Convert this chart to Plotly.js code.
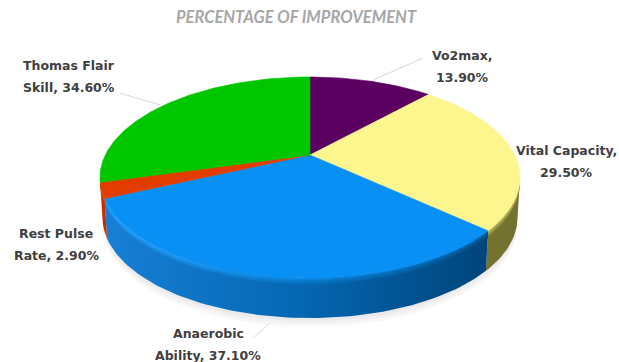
<!DOCTYPE html>
<html>
<head>
<meta charset="utf-8">
<script src="https://cdn.plot.ly/plotly-3.0.1.min.js"></script>
<style>html,body{margin:0;padding:0;background:#fff}#chart{width:619px;height:362px}</style>
</head>
<body>
<div id="chart"></div>
<script>
// Improvement per fitness measure, clockwise from twelve o'clock
const categories = ["Vo2max", "Vital Capacity", "Anaerobic Ability", "Rest Pulse Rate", "Thomas Flair Skill"];
const percentages = [13.9, 29.5, 37.1, 2.9, 34.6];

// Colours of the slice tops
const topColors = ["#5b0061", "#fdf58e", "#0890f5", "#e23c00", "#00c600"];

// Rim colours, one horizontal ramp per slice: [upper bevel, wall]
const wallRamps = [
  [["#5b0061", "#5b0061"], ["#3c0040", "#3c0040"]],
  [["#c9c468", "#b8b35c"], ["#7f7d3c", "#74722f"]],
  [["#2aa6ff", "#0a88e2", "#005c9e"], ["#1780d6", "#0568b4", "#00447a"]],
  [["#f05a20", "#d83800"], ["#c43000", "#b82c00"]],
  [["#00a800", "#00a800"], ["#009000", "#009000"]]
];

// Camera of the tilted disc: pivot, radii, foreshortening and wall height
const cam = { cx: 310, cy: 155, rx: 204.7, ry: 95.5, k: 0.224, depth: 40 };

// Disc angle (radians, clockwise from the top) to page pixels at a given drop below the top face
function project(theta, drop) {
  const X = Math.sin(theta), Y = Math.cos(theta), w = 1 + cam.k * Y;
  const shrink = 1 - 0.012 * drop / cam.depth;
  return [cam.cx + shrink * cam.rx * X / w, cam.cy - cam.ry * Y / w + drop];
}

function arc(a0, a1, drop) {
  const n = Math.max(2, Math.ceil(Math.abs(a1 - a0) / 0.02));
  const pts = [];
  for (let i = 0; i <= n; i++) pts.push(project(a0 + (a1 - a0) * i / n, drop));
  return pts;
}

const total = percentages.reduce((a, b) => a + b, 0);
let running = 0;
const slices = percentages.map(v => {
  const a0 = running / total * 2 * Math.PI;
  running += v;
  return [a0, running / total * 2 * Math.PI];
});

function polygon(pts, extra) {
  return Object.assign({
    type: "scatter", mode: "lines", fill: "toself",
    x: pts.map(p => p[0]), y: pts.map(p => p[1]),
    line: { width: 0 }, hoverinfo: "skip", showlegend: false
  }, extra);
}

function ramp(stops) {
  return {
    type: "horizontal", start: 100, stop: 490,
    colorscale: stops.map((c, i) => [i / (stops.length - 1), c])
  };
}

// Blend two #rrggbb colours
function mix(a, b, t) {
  const ch = (s, i) => parseInt(s.substr(1 + 2 * i, 2), 16);
  const out = [0, 1, 2].map(i => Math.round(ch(a, i) + (ch(b, i) - ch(a, i)) * t));
  return "rgb(" + out.join(",") + ")";
}

const traces = [];

// Faint contact shadow beneath the front of the disc
const frontStart = Math.acos(-cam.k), frontEnd = 2 * Math.PI - frontStart;
[9, 6, 3].forEach(grow => {
  const pts = arc(frontStart, frontEnd, cam.depth + grow)
    .concat(arc(frontEnd, frontStart, 0));
  traces.push(polygon(pts, { fillcolor: "rgba(120,120,140,0.05)" }));
});

// Visible wall of each slice: bevel bands stacked from deep to shallow so no seams show
const bevelDepths = [8, 6, 4, 2];
slices.forEach(([a0, a1], i) => {
  const from = Math.max(a0, frontStart), to = Math.min(a1, frontEnd);
  if (to <= from) return;
  const [lit, dark] = wallRamps[i];
  const wall = arc(from, to, cam.depth).concat(arc(to, from, 0));
  traces.push(polygon(wall, { fillcolor: dark[0], fillgradient: ramp(dark) }));
  bevelDepths.forEach((d, s) => {
    const t = 1 - s / (bevelDepths.length - 1);
    const stops = lit.map((c, n) => mix(c, dark[n], t));
    const band = arc(from, to, d).concat(arc(to, from, 0));
    traces.push(polygon(band, { fillcolor: stops[0], fillgradient: ramp(stops) }));
  });
});

// Top faces meet at the pivot of the disc
slices.forEach(([a0, a1], i) => {
  const pivot = [cam.cx, cam.cy];
  const pts = [pivot].concat(arc(a0, a1, 0), [pivot]);
  traces.push(polygon(pts, { fillcolor: topColors[i], line: { width: 0.6, color: topColors[i] } }));
});

// Leader lines from labels to their slices
const leaders = [
  { x: [423, 373], y: [58, 80] },
  { x: [120, 160], y: [93, 105] },
  { x: [253, 270], y: [338, 323] }
];
leaders.forEach(l => traces.push({
  type: "scatter", mode: "lines", x: l.x, y: l.y,
  line: { color: "#d9d9d9", width: 1 }, hoverinfo: "skip", showlegend: false
}));

// Two-line data labels, the split point chosen per category
const fmt = v => v.toFixed(2) + "%";
const labelLines = [
  ["Vo2max,", fmt(percentages[0])],
  ["Vital Capacity,", fmt(percentages[1])],
  ["Anaerobic", "Ability, " + fmt(percentages[2])],
  ["Rest Pulse", "Rate, " + fmt(percentages[3])],
  ["Thomas Flair", "Skill, " + fmt(percentages[4])]
];
const labelAnchors = [[462, 55], [566, 150], [208, 333], [56, 233], [69, 65]];
const lineGap = 22;

const annotations = [];
labelLines.forEach((lines, i) => {
  lines.forEach((t, j) => annotations.push({
    x: labelAnchors[i][0], y: labelAnchors[i][1] + j * lineGap,
    xref: "x", yref: "y", text: t, showarrow: false,
    xanchor: "center", yanchor: "middle",
    font: { family: "DejaVu Sans", size: 12.5, color: "#404040", weight: 700 }
  }));
});
annotations.push({
  x: 296, y: 17, xref: "x", yref: "y", showarrow: false,
  text: "<b><i>PERCENTAGE OF IMPROVEMENT</i></b>",
  xanchor: "center", yanchor: "middle",
  font: { family: "Lato", size: 16.5, color: "#a6a6a6" }
});

const layout = {
  width: 619, height: 362,
  margin: { l: 0, r: 0, t: 0, b: 0 },
  paper_bgcolor: "#ffffff", plot_bgcolor: "#ffffff",
  xaxis: { range: [0, 619], visible: false, fixedrange: true },
  yaxis: { range: [362, 0], visible: false, fixedrange: true },
  showlegend: false, hovermode: false,
  annotations: annotations
};

Plotly.newPlot("chart", traces, layout, { displayModeBar: false, staticPlot: true });
</script>
</body>
</html>
